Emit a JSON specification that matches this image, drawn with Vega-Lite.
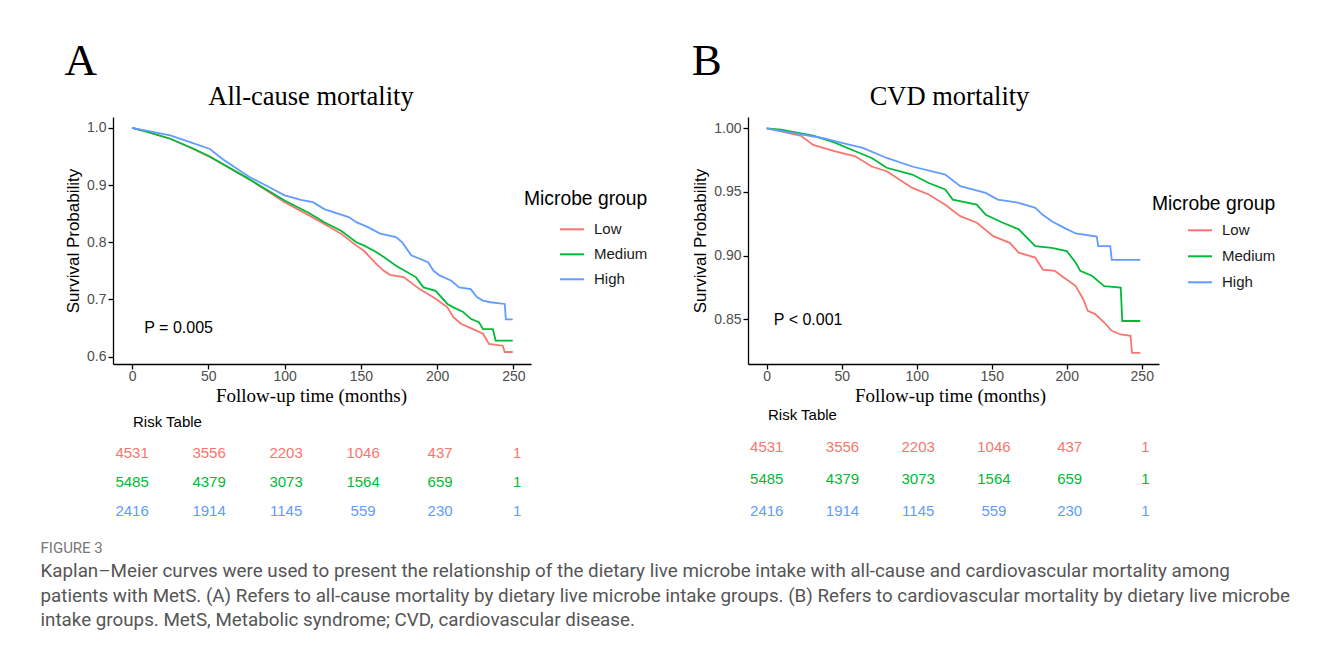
{
  "$schema": "https://vega.github.io/schema/vega-lite/v6.json",
  "background": "white",
  "padding": {"left": 40, "top": 38, "right": 5, "bottom": 5},
  "config": {
    "view": {"stroke": null},
    "font": "Liberation Sans",
    "axis": {"grid": false, "domainColor": "black", "domainWidth": 1.3, "tickColor": "black", "tickWidth": 1.3, "tickSize": 5, "labelColor": "#4d4d4d", "labelFontSize": 14, "labelFont": "Liberation Sans", "labelPadding": 2, "titleColor": "black", "titleFontWeight": "normal"},
    "legend": {"titleFont": "Liberation Sans", "titleFontSize": 19.3, "titleFontWeight": "normal", "titleColor": "black", "labelFont": "Liberation Sans", "labelFontSize": 15, "labelColor": "#1a1a1a", "symbolType": "stroke", "symbolStrokeWidth": 2, "symbolSize": 576, "symbolOffset": 35, "labelOffset": 9},
    "title": {"fontWeight": "normal", "color": "black"}
  },
  "title": {
    "text": "FIGURE 3",
    "subtitle": [
      "Kaplan–Meier curves were used to present the relationship of the dietary live microbe intake with all-cause and cardiovascular mortality among",
      "patients with MetS. (A) Refers to all-cause mortality by dietary live microbe intake groups. (B) Refers to cardiovascular mortality by dietary live microbe",
      "intake groups. MetS, Metabolic syndrome; CVD, cardiovascular disease."
    ],
    "orient": "bottom", "anchor": "start", "dx": -24, "offset": 14,
    "font": "Roboto", "fontSize": 15, "color": "#777777", "fontWeight": "normal",
    "subtitleFont": "Roboto", "subtitleFontSize": 18.8, "subtitleColor": "#555555", "subtitleLineHeight": 24.5, "subtitlePadding": 6
  },
  "datasets": {
    "kmA": [
      {"t": 0, "s": 1.0, "g": "Low"}, {"t": 10, "s": 0.993, "g": "Low"}, {"t": 25, "s": 0.981, "g": "Low"}, {"t": 40, "s": 0.963, "g": "Low"}, {"t": 51, "s": 0.949, "g": "Low"}, {"t": 75, "s": 0.913, "g": "Low"}, {"t": 100, "s": 0.870, "g": "Low"}, {"t": 116, "s": 0.847, "g": "Low"}, {"t": 126, "s": 0.832, "g": "Low"}, {"t": 137, "s": 0.815, "g": "Low"}, {"t": 147, "s": 0.794, "g": "Low"}, {"t": 152, "s": 0.785, "g": "Low"}, {"t": 160, "s": 0.762, "g": "Low"}, {"t": 165, "s": 0.750, "g": "Low"}, {"t": 169, "s": 0.743, "g": "Low"}, {"t": 178, "s": 0.739, "g": "Low"}, {"t": 188.5, "s": 0.718, "g": "Low"}, {"t": 199, "s": 0.701, "g": "Low"}, {"t": 206.7, "s": 0.686, "g": "Low"}, {"t": 210.6, "s": 0.669, "g": "Low"}, {"t": 215.8, "s": 0.657, "g": "Low"}, {"t": 221, "s": 0.651, "g": "Low"}, {"t": 226, "s": 0.645, "g": "Low"}, {"t": 230, "s": 0.640, "g": "Low"}, {"t": 234, "s": 0.622, "g": "Low"}, {"t": 243, "s": 0.619, "g": "Low"}, {"t": 244.3, "s": 0.608, "g": "Low"}, {"t": 249.5, "s": 0.608, "g": "Low"},
      {"t": 0, "s": 1.0, "g": "Medium"}, {"t": 10, "s": 0.993, "g": "Medium"}, {"t": 25, "s": 0.981, "g": "Medium"}, {"t": 40, "s": 0.964, "g": "Medium"}, {"t": 51, "s": 0.950, "g": "Medium"}, {"t": 75, "s": 0.913, "g": "Medium"}, {"t": 100, "s": 0.873, "g": "Medium"}, {"t": 116, "s": 0.851, "g": "Medium"}, {"t": 126, "s": 0.835, "g": "Medium"}, {"t": 137, "s": 0.820, "g": "Medium"}, {"t": 147, "s": 0.800, "g": "Medium"}, {"t": 152.2, "s": 0.794, "g": "Medium"}, {"t": 160, "s": 0.783, "g": "Medium"}, {"t": 165, "s": 0.774, "g": "Medium"}, {"t": 173, "s": 0.759, "g": "Medium"}, {"t": 186, "s": 0.739, "g": "Medium"}, {"t": 191, "s": 0.721, "g": "Medium"}, {"t": 199, "s": 0.715, "g": "Medium"}, {"t": 206.7, "s": 0.692, "g": "Medium"}, {"t": 210.6, "s": 0.686, "g": "Medium"}, {"t": 217, "s": 0.678, "g": "Medium"}, {"t": 222, "s": 0.666, "g": "Medium"}, {"t": 227.4, "s": 0.660, "g": "Medium"}, {"t": 230, "s": 0.648, "g": "Medium"}, {"t": 236.5, "s": 0.648, "g": "Medium"}, {"t": 238.3, "s": 0.628, "g": "Medium"}, {"t": 249.5, "s": 0.628, "g": "Medium"},
      {"t": 0, "s": 1.0, "g": "High"}, {"t": 25, "s": 0.987, "g": "High"}, {"t": 38, "s": 0.975, "g": "High"}, {"t": 51, "s": 0.963, "g": "High"}, {"t": 59, "s": 0.946, "g": "High"}, {"t": 69, "s": 0.928, "g": "High"}, {"t": 77, "s": 0.914, "g": "High"}, {"t": 90, "s": 0.896, "g": "High"}, {"t": 100, "s": 0.882, "g": "High"}, {"t": 110.7, "s": 0.874, "g": "High"}, {"t": 118.5, "s": 0.870, "g": "High"}, {"t": 126, "s": 0.858, "g": "High"}, {"t": 142, "s": 0.844, "g": "High"}, {"t": 147, "s": 0.835, "g": "High"}, {"t": 155, "s": 0.826, "g": "High"}, {"t": 162.6, "s": 0.815, "g": "High"}, {"t": 173, "s": 0.809, "g": "High"}, {"t": 177, "s": 0.800, "g": "High"}, {"t": 183, "s": 0.777, "g": "High"}, {"t": 194, "s": 0.765, "g": "High"}, {"t": 197.6, "s": 0.750, "g": "High"}, {"t": 201.5, "s": 0.742, "g": "High"}, {"t": 209, "s": 0.733, "g": "High"}, {"t": 214.5, "s": 0.721, "g": "High"}, {"t": 222, "s": 0.718, "g": "High"}, {"t": 226, "s": 0.704, "g": "High"}, {"t": 230, "s": 0.698, "g": "High"}, {"t": 235, "s": 0.695, "g": "High"}, {"t": 244.3, "s": 0.692, "g": "High"}, {"t": 245, "s": 0.665, "g": "High"}, {"t": 249.5, "s": 0.665, "g": "High"}
    ],
    "kmB": [
      {"t": 0, "s": 1.0, "g": "Low"}, {"t": 9.5, "s": 0.9976, "g": "Low"}, {"t": 23, "s": 0.994, "g": "Low"}, {"t": 31, "s": 0.987, "g": "Low"}, {"t": 45, "s": 0.982, "g": "Low"}, {"t": 59, "s": 0.978, "g": "Low"}, {"t": 70, "s": 0.970, "g": "Low"}, {"t": 80, "s": 0.9663, "g": "Low"}, {"t": 97, "s": 0.9532, "g": "Low"}, {"t": 108, "s": 0.948, "g": "Low"}, {"t": 119, "s": 0.940, "g": "Low"}, {"t": 129, "s": 0.931, "g": "Low"}, {"t": 140, "s": 0.9258, "g": "Low"}, {"t": 151, "s": 0.9153, "g": "Low"}, {"t": 162, "s": 0.910, "g": "Low"}, {"t": 168, "s": 0.9023, "g": "Low"}, {"t": 179, "s": 0.8984, "g": "Low"}, {"t": 184, "s": 0.889, "g": "Low"}, {"t": 192, "s": 0.888, "g": "Low"}, {"t": 198, "s": 0.8827, "g": "Low"}, {"t": 206, "s": 0.876, "g": "Low"}, {"t": 211, "s": 0.8657, "g": "Low"}, {"t": 214, "s": 0.8565, "g": "Low"}, {"t": 219, "s": 0.854, "g": "Low"}, {"t": 225, "s": 0.8474, "g": "Low"}, {"t": 230, "s": 0.8409, "g": "Low"}, {"t": 236, "s": 0.838, "g": "Low"}, {"t": 242.5, "s": 0.837, "g": "Low"}, {"t": 243.5, "s": 0.8235, "g": "Low"}, {"t": 249, "s": 0.8235, "g": "Low"},
      {"t": 0, "s": 1.0, "g": "Medium"}, {"t": 9.5, "s": 0.999, "g": "Medium"}, {"t": 31, "s": 0.9943, "g": "Medium"}, {"t": 45, "s": 0.989, "g": "Medium"}, {"t": 59, "s": 0.982, "g": "Medium"}, {"t": 70, "s": 0.9767, "g": "Medium"}, {"t": 80, "s": 0.969, "g": "Medium"}, {"t": 97, "s": 0.9637, "g": "Medium"}, {"t": 108, "s": 0.957, "g": "Medium"}, {"t": 119, "s": 0.952, "g": "Medium"}, {"t": 124, "s": 0.944, "g": "Medium"}, {"t": 140, "s": 0.940, "g": "Medium"}, {"t": 146, "s": 0.932, "g": "Medium"}, {"t": 157, "s": 0.926, "g": "Medium"}, {"t": 168, "s": 0.9206, "g": "Medium"}, {"t": 179, "s": 0.9075, "g": "Medium"}, {"t": 190, "s": 0.906, "g": "Medium"}, {"t": 200, "s": 0.9036, "g": "Medium"}, {"t": 206, "s": 0.8944, "g": "Medium"}, {"t": 209, "s": 0.888, "g": "Medium"}, {"t": 217, "s": 0.884, "g": "Medium"}, {"t": 225, "s": 0.876, "g": "Medium"}, {"t": 236, "s": 0.8748, "g": "Medium"}, {"t": 237, "s": 0.8486, "g": "Medium"}, {"t": 249, "s": 0.8486, "g": "Medium"},
      {"t": 0, "s": 1.0, "g": "High"}, {"t": 9.5, "s": 0.998, "g": "High"}, {"t": 37, "s": 0.9924, "g": "High"}, {"t": 50, "s": 0.9885, "g": "High"}, {"t": 64, "s": 0.9846, "g": "High"}, {"t": 80, "s": 0.9767, "g": "High"}, {"t": 97, "s": 0.970, "g": "High"}, {"t": 119, "s": 0.9637, "g": "High"}, {"t": 129, "s": 0.9545, "g": "High"}, {"t": 146, "s": 0.9493, "g": "High"}, {"t": 154, "s": 0.944, "g": "High"}, {"t": 168, "s": 0.9415, "g": "High"}, {"t": 179, "s": 0.9375, "g": "High"}, {"t": 184, "s": 0.932, "g": "High"}, {"t": 190, "s": 0.927, "g": "High"}, {"t": 198, "s": 0.922, "g": "High"}, {"t": 206, "s": 0.9174, "g": "High"}, {"t": 220, "s": 0.915, "g": "High"}, {"t": 221, "s": 0.9075, "g": "High"}, {"t": 229, "s": 0.9075, "g": "High"}, {"t": 230, "s": 0.8967, "g": "High"}, {"t": 249, "s": 0.8967, "g": "High"}
    ],
    "risk": [
      {"t": 0, "g": "Low", "n": 4531}, {"t": 50, "g": "Low", "n": 3556}, {"t": 100, "g": "Low", "n": 2203}, {"t": 150, "g": "Low", "n": 1046}, {"t": 200, "g": "Low", "n": 437}, {"t": 250, "g": "Low", "n": 1},
      {"t": 0, "g": "Medium", "n": 5485}, {"t": 50, "g": "Medium", "n": 4379}, {"t": 100, "g": "Medium", "n": 3073}, {"t": 150, "g": "Medium", "n": 1564}, {"t": 200, "g": "Medium", "n": 659}, {"t": 250, "g": "Medium", "n": 1},
      {"t": 0, "g": "High", "n": 2416}, {"t": 50, "g": "High", "n": 1914}, {"t": 100, "g": "High", "n": 1145}, {"t": 150, "g": "High", "n": 559}, {"t": 200, "g": "High", "n": 230}, {"t": 250, "g": "High", "n": 1}
    ]
  },
  "hconcat": [
    {
      "title": {"text": "A", "anchor": "start", "font": "Liberation Serif", "fontSize": 45, "fontWeight": "normal", "offset": 0},
      "spacing": 10,
      "resolve": {"scale": {"color": "independent", "x": "independent", "y": "independent"}, "legend": {"color": "independent"}},
      "vconcat": [
        {
          "width": 418, "height": 247,
          "title": {"text": "All-cause mortality", "font": "Liberation Serif", "fontSize": 26.5, "fontWeight": "normal", "anchor": "middle", "dx": -11, "offset": 7},
          "layer": [
            {
              "data": {"name": "kmA"},
              "mark": {"type": "line", "strokeWidth": 1.8},
              "encoding": {
                "x": {"field": "t", "type": "quantitative", "scale": {"domain": [-12.5, 261.5], "nice": false, "zero": false}, "axis": {"values": [0, 50, 100, 150, 200, 250], "labelPadding": 0, "title": "Follow-up time (months)", "titleFont": "Liberation Serif", "titleFontSize": 19, "titlePadding": 3, "titleX": 198, "titleAnchor": "middle"}},
                "y": {"field": "s", "type": "quantitative", "scale": {"domain": [0.587, 1.019], "nice": false, "zero": false}, "axis": {"values": [0.6, 0.7, 0.8, 0.9, 1.0], "format": ".1f", "title": "Survival Probability", "titleFont": "Liberation Sans", "titleFontSize": 17, "titlePadding": 4}},
                "color": {"field": "g", "type": "nominal", "scale": {"domain": ["Low", "Medium", "High"], "range": ["#F8766D", "#00BA38", "#619CFF"]}, "legend": {"title": "Microbe group", "orient": "none", "legendX": 411, "legendY": 73, "rowPadding": 4, "titlePadding": 7}}
              }
            },
            {
              "data": {"values": [{"t": 8, "s": 0.65, "label": "P = 0.005"}]},
              "mark": {"type": "text", "align": "left", "baseline": "middle", "fontSize": 16, "font": "Liberation Sans", "color": "black"},
              "encoding": {"x": {"field": "t", "type": "quantitative"}, "y": {"field": "s", "type": "quantitative"}, "text": {"field": "label"}}
            }
          ]
        },
        {
          "width": 418, "height": 87,
          "title": {"text": "Risk Table", "anchor": "start", "dx": 20, "font": "Liberation Sans", "fontSize": 15, "fontWeight": "normal", "offset": 8},
          "data": {"name": "risk"},
          "mark": {"type": "text", "fontSize": 15, "font": "Liberation Sans", "baseline": "middle"},
          "encoding": {
            "x": {"field": "t", "type": "quantitative", "scale": {"domain": [-12.4, 259], "nice": false, "zero": false}, "axis": null},
            "y": {"field": "g", "type": "nominal", "scale": {"type": "point", "domain": ["Low", "Medium", "High"], "padding": 0.5}, "axis": null},
            "color": {"field": "g", "type": "nominal", "scale": {"domain": ["Low", "Medium", "High"], "range": ["#F8766D", "#00BA38", "#619CFF"]}, "legend": null},
            "text": {"field": "n"}
          }
        }
      ]
    },
    {
      "title": {"text": "B", "anchor": "start", "font": "Liberation Serif", "fontSize": 45, "fontWeight": "normal", "offset": 0},
      "spacing": 3,
      "resolve": {"scale": {"color": "independent", "x": "independent", "y": "independent"}, "legend": {"color": "independent"}},
      "vconcat": [
        {
          "width": 411, "height": 247,
          "title": {"text": "CVD mortality", "font": "Liberation Serif", "fontSize": 26.5, "fontWeight": "normal", "anchor": "middle", "dx": -4, "offset": 7},
          "layer": [
            {
              "data": {"name": "kmB"},
              "mark": {"type": "line", "strokeWidth": 1.8},
              "encoding": {
                "x": {"field": "t", "type": "quantitative", "scale": {"domain": [-12.5, 261.5], "nice": false, "zero": false}, "axis": {"values": [0, 50, 100, 150, 200, 250], "labelPadding": 0, "title": "Follow-up time (months)", "titleFont": "Liberation Serif", "titleFontSize": 19, "titlePadding": 3, "titleX": 202, "titleAnchor": "middle"}},
                "y": {"field": "s", "type": "quantitative", "scale": {"domain": [0.8148, 1.0089], "nice": false, "zero": false}, "axis": {"values": [0.85, 0.9, 0.95, 1.0], "format": ".2f", "title": "Survival Probability", "titleFont": "Liberation Sans", "titleFontSize": 17, "titlePadding": 4}},
                "color": {"field": "g", "type": "nominal", "scale": {"domain": ["Low", "Medium", "High"], "range": ["#F8766D", "#00BA38", "#619CFF"]}, "legend": {"title": "Microbe group", "orient": "none", "legendX": 404, "legendY": 78, "rowPadding": 5, "titlePadding": 3}}
              }
            },
            {
              "data": {"values": [{"t": 4.7, "s": 0.8493, "label": "P < 0.001"}]},
              "mark": {"type": "text", "align": "left", "baseline": "middle", "fontSize": 16, "font": "Liberation Sans", "color": "black"},
              "encoding": {"x": {"field": "t", "type": "quantitative"}, "y": {"field": "s", "type": "quantitative"}, "text": {"field": "label"}}
            }
          ]
        },
        {
          "width": 411, "height": 96,
          "title": {"text": "Risk Table", "anchor": "start", "dx": 20, "font": "Liberation Sans", "fontSize": 15, "fontWeight": "normal", "offset": 8},
          "data": {"name": "risk"},
          "mark": {"type": "text", "fontSize": 15, "font": "Liberation Sans", "baseline": "middle"},
          "encoding": {
            "x": {"field": "t", "type": "quantitative", "scale": {"domain": [-12.4, 259], "nice": false, "zero": false}, "axis": null},
            "y": {"field": "g", "type": "nominal", "scale": {"type": "point", "domain": ["Low", "Medium", "High"], "padding": 0.5}, "axis": null},
            "color": {"field": "g", "type": "nominal", "scale": {"domain": ["Low", "Medium", "High"], "range": ["#F8766D", "#00BA38", "#619CFF"]}, "legend": null},
            "text": {"field": "n"}
          }
        }
      ]
    }
  ],
  "spacing": 43,
  "resolve": {"scale": {"color": "independent"}, "legend": {"color": "independent"}}
}
